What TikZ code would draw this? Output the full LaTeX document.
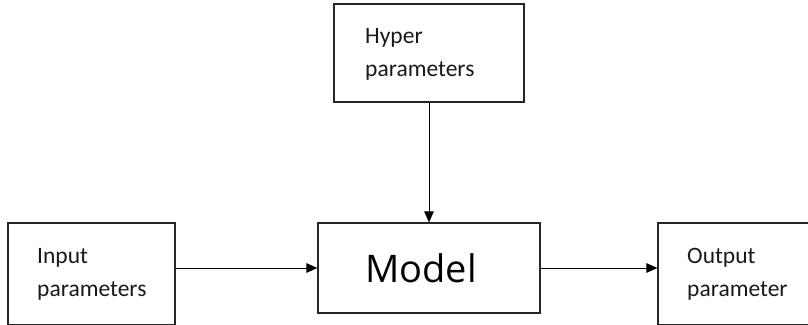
\documentclass[tikz,border=0pt]{standalone}
\usepackage{fontspec}
\setmainfont{Carlito}
\newfontfamily\modelfont{Open Sans}
\usetikzlibrary{arrows.meta}

\tikzset{
  blk/.style={draw=black!85, line width=1.2pt, inner sep=0pt},
  lbl/.style={anchor=north west, align=left, inner sep=0pt, text=black!90,
              font=\fontsize{23.5}{33}\selectfont},
  flow/.style={line width=1pt, -{Triangle[length=11pt,width=9.5pt]}}
}

\begin{document}
\begin{tikzpicture}[x=1pt, y=-1pt]
\useasboundingbox (0,0) rectangle (808,324);

% Boxes
\node[blk, minimum width=190pt, minimum height=98pt] (hyper) at (429,53) {};
\node[blk, minimum width=167pt, minimum height=102pt] (inbox) at (91.5,274) {};
\node[blk, minimum width=222pt, minimum height=90pt] (model) at (429,268)
  {\modelfont\fontsize{38}{40}\selectfont Model\hspace*{16pt}};
\node[blk, minimum width=153pt, minimum height=102pt] (outbox) at (734.5,274) {};

% Texts in the boxes
\node[lbl] (hypertxt) at (365,28) {Hyper\\parameters};
\node[lbl] (intxt) at (37,248) {Input\\parameters};
\node[lbl] (outtxt) at (687,248) {Output\\parameter};

% Arrows
\draw[flow] (hyper.south) -- (model.north);
\draw[flow] (inbox.east |- model.west) -- (model.west);
\draw[flow] (model.east) -- (model.east -| outbox.west);
\end{tikzpicture}
\end{document}
